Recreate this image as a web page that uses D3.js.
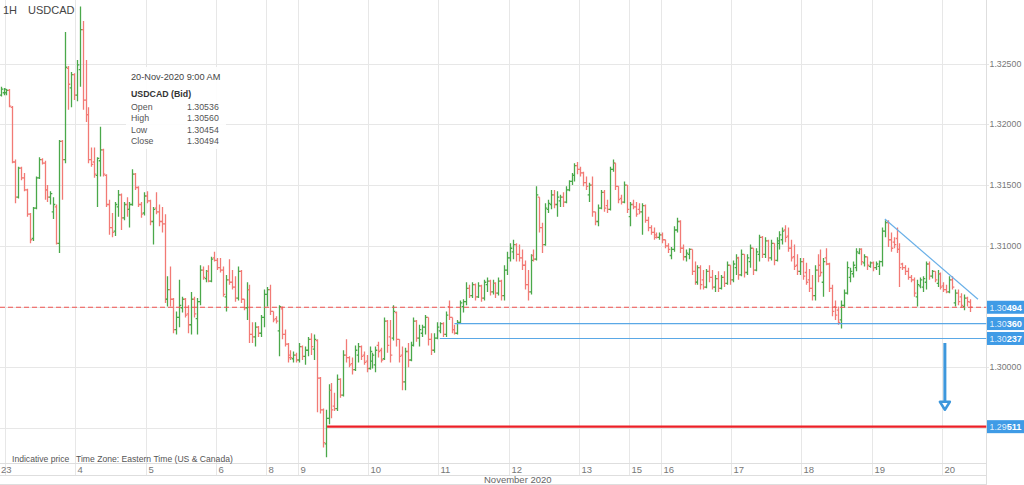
<!DOCTYPE html>
<html>
<head>
<meta charset="utf-8">
<script src="https://cdn.jsdelivr.net/npm/d3@7"></script>
<style>
body{margin:0;background:#fff;font-family:Arial,"Liberation Sans",sans-serif;}
</style>
</head>
<body>
<svg id="chart" width="1024" height="485"></svg>
<script>
// hourly bars, [open, high, low, close], last bar = 20-Nov-2020 9:00 AM
const bars = [
[1.3224,1.3231,1.3223,1.3229],[1.3226,1.3230,1.3224,1.3229],[1.3226,1.3229,1.3224,1.3228],[1.3228,1.3229,1.3214,1.3215],[1.3214,1.3215,1.3168,1.3169],
[1.3169,1.3171,1.3135,1.3140],[1.3140,1.3165,1.3139,1.3164],[1.3164,1.3165,1.3154,1.3156],[1.3156,1.3160,1.3145,1.3146],[1.3146,1.3147,1.3124,1.3126],
[1.3126,1.3127,1.3102,1.3105],[1.3106,1.3132,1.3104,1.3131],[1.3131,1.3157,1.3130,1.3156],[1.3156,1.3173,1.3155,1.3171],[1.3171,1.3172,1.3167,1.3168],
[1.3168,1.3170,1.3138,1.3146],[1.3146,1.3150,1.3136,1.3140],[1.3140,1.3145,1.3134,1.3143],[1.3128,1.3140,1.3122,1.3134],[1.3132,1.3134,1.3101,1.3102],
[1.3102,1.3187,1.3094,1.3186],[1.3186,1.3187,1.3138,1.3171],[1.3171,1.3276,1.3168,1.3247],[1.3246,1.3248,1.3212,1.3233],[1.3230,1.3243,1.3214,1.3241],
[1.3241,1.3242,1.3220,1.3224],[1.3224,1.3253,1.3219,1.3249],[1.3245,1.3297,1.3231,1.3278],[1.3278,1.3285,1.3212,1.3220],[1.3220,1.3253,1.3202,1.3208],
[1.3208,1.3214,1.3168,1.3171],[1.3171,1.3181,1.3165,1.3167],[1.3169,1.3181,1.3156,1.3159],[1.3158,1.3173,1.3132,1.3172],[1.3170,1.3198,1.3157,1.3179],
[1.3179,1.3180,1.3157,1.3159],[1.3158,1.3159,1.3132,1.3134],[1.3134,1.3138,1.3109,1.3115],[1.3115,1.3127,1.3107,1.3111],[1.3112,1.3136,1.3108,1.3134],
[1.3132,1.3146,1.3124,1.3142],[1.3142,1.3143,1.3113,1.3123],[1.3123,1.3136,1.3121,1.3134],[1.3134,1.3140,1.3124,1.3130],[1.3130,1.3136,1.3115,1.3134],
[1.3134,1.3163,1.3133,1.3159],[1.3159,1.3160,1.3146,1.3148],[1.3148,1.3149,1.3132,1.3134],[1.3134,1.3136,1.3123,1.3126],[1.3127,1.3144,1.3125,1.3141],
[1.3141,1.3145,1.3135,1.3137],[1.3137,1.3138,1.3117,1.3120],[1.3120,1.3132,1.3101,1.3130],[1.3131,1.3144,1.3126,1.3128],[1.3128,1.3134,1.3116,1.3120],
[1.3120,1.3132,1.3111,1.3118],[1.3118,1.3126,1.3053,1.3056],[1.3056,1.3075,1.3050,1.3064],[1.3064,1.3083,1.3050,1.3056],[1.3056,1.3057,1.3028,1.3031],
[1.3031,1.3046,1.3027,1.3041],[1.3041,1.3072,1.3033,1.3051],[1.3049,1.3058,1.3045,1.3056],[1.3056,1.3057,1.3041,1.3043],[1.3044,1.3051,1.3028,1.3035],
[1.3035,1.3062,1.3027,1.3056],[1.3056,1.3058,1.3041,1.3044],[1.3040,1.3057,1.3027,1.3054],[1.3054,1.3084,1.3051,1.3080],[1.3080,1.3083,1.3072,1.3074],
[1.3073,1.3080,1.3070,1.3079],[1.3079,1.3084,1.3070,1.3071],[1.3071,1.3091,1.3070,1.3089],[1.3090,1.3095,1.3087,1.3088],[1.3088,1.3090,1.3080,1.3082],
[1.3082,1.3090,1.3078,1.3080],[1.3080,1.3083,1.3058,1.3060],[1.3058,1.3076,1.3046,1.3072],[1.3072,1.3089,1.3068,1.3070],[1.3070,1.3080,1.3064,1.3066],
[1.3066,1.3075,1.3054,1.3057],[1.3057,1.3083,1.3055,1.3079],[1.3079,1.3080,1.3053,1.3056],[1.3056,1.3056,1.3047,1.3049],[1.3049,1.3070,1.3039,1.3064],
[1.3064,1.3068,1.3020,1.3027],[1.3027,1.3037,1.3020,1.3025],[1.3025,1.3037,1.3017,1.3033],[1.3033,1.3034,1.3025,1.3028],[1.3028,1.3043,1.3025,1.3041],
[1.3041,1.3064,1.3033,1.3060],[1.3060,1.3066,1.3050,1.3064],[1.3064,1.3068,1.3043,1.3046],[1.3046,1.3046,1.3037,1.3039],[1.3040,1.3042,1.3036,1.3038],
[1.3030,1.3051,1.3009,1.3050],[1.3048,1.3050,1.3023,1.3027],[1.3027,1.3031,1.3017,1.3019],[1.3019,1.3020,1.3004,1.3008],[1.3010,1.3014,1.3006,1.3008],
[1.3007,1.3013,1.3004,1.3010],[1.3010,1.3012,1.3004,1.3006],[1.3006,1.3020,1.3004,1.3017],[1.3017,1.3018,1.3006,1.3009],[1.3009,1.3017,1.3002,1.3014],
[1.3014,1.3025,1.3009,1.3023],[1.3023,1.3028,1.3010,1.3017],[1.3015,1.3027,1.3006,1.3023],[1.3022,1.3023,1.2963,1.2991],[1.2991,1.2992,1.2962,1.2965],
[1.2965,1.2966,1.2934,1.2938],[1.2937,1.2965,1.2926,1.2958],[1.2958,1.2986,1.2953,1.2981],[1.2981,1.2987,1.2958,1.2965],[1.2968,1.2979,1.2964,1.2966],
[1.2966,1.2994,1.2964,1.2990],[1.2990,1.2991,1.2975,1.2977],[1.2977,1.3014,1.2976,1.3010],[1.3010,1.3023,1.3004,1.3008],[1.3008,1.3009,1.3000,1.3002],
[1.3003,1.3008,1.2994,1.2998],[1.2998,1.3018,1.2997,1.3014],[1.3010,1.3020,1.3004,1.3017],[1.3017,1.3018,1.3006,1.3009],[1.3010,1.3013,1.3002,1.3004],
[1.3005,1.3010,1.2996,1.2999],[1.2999,1.3017,1.2998,1.3013],[1.3005,1.3012,1.2999,1.3010],[1.3002,1.3017,1.2996,1.3014],[1.3018,1.3021,1.3008,1.3013],
[1.3014,1.3016,1.3004,1.3006],[1.3007,1.3041,1.3006,1.3038],[1.3038,1.3039,1.3012,1.3018],[1.3025,1.3039,1.3004,1.3010],[1.3024,1.3051,1.3022,1.3046],
[1.3045,1.3046,1.3017,1.3023],[1.3023,1.3023,1.3004,1.3009],[1.3010,1.3017,1.2981,1.2988],[1.2988,1.3016,1.2981,1.3013],[1.3013,1.3020,1.3000,1.3006],
[1.3006,1.3021,1.3005,1.3018],[1.3018,1.3041,1.3017,1.3038],[1.3038,1.3039,1.3021,1.3024],[1.3024,1.3035,1.3017,1.3031],[1.3028,1.3035,1.3025,1.3033],
[1.3033,1.3043,1.3027,1.3041],[1.3041,1.3041,1.3018,1.3023],[1.3023,1.3028,1.3010,1.3014],[1.3014,1.3028,1.3012,1.3024],[1.3024,1.3037,1.3023,1.3033],
[1.3030,1.3037,1.3028,1.3036],[1.3036,1.3037,1.3025,1.3027],[1.3027,1.3046,1.3025,1.3043],[1.3050,1.3055,1.3039,1.3041],[1.3041,1.3041,1.3028,1.3031],
[1.3031,1.3035,1.3027,1.3028],[1.3028,1.3039,1.3027,1.3037],[1.3037,1.3055,1.3036,1.3053],[1.3050,1.3056,1.3045,1.3054],[1.3054,1.3070,1.3051,1.3065],
[1.3065,1.3068,1.3057,1.3059],[1.3059,1.3070,1.3057,1.3068],[1.3068,1.3069,1.3055,1.3058],[1.3058,1.3070,1.3057,1.3067],[1.3067,1.3068,1.3054,1.3057],
[1.3057,1.3072,1.3055,1.3070],[1.3068,1.3074,1.3062,1.3071],[1.3071,1.3072,1.3059,1.3062],[1.3062,1.3072,1.3060,1.3069],[1.3069,1.3070,1.3057,1.3061],
[1.3061,1.3074,1.3059,1.3071],[1.3071,1.3072,1.3055,1.3059],[1.3059,1.3084,1.3055,1.3080],[1.3080,1.3095,1.3076,1.3090],[1.3090,1.3102,1.3087,1.3098],
[1.3095,1.3105,1.3089,1.3101],[1.3101,1.3102,1.3087,1.3093],[1.3093,1.3101,1.3087,1.3090],[1.3090,1.3097,1.3080,1.3084],[1.3084,1.3088,1.3064,1.3068],
[1.3068,1.3080,1.3055,1.3062],[1.3062,1.3093,1.3060,1.3088],[1.3092,1.3097,1.3087,1.3089],[1.3089,1.3149,1.3088,1.3142],[1.3140,1.3140,1.3111,1.3115],
[1.3115,1.3119,1.3094,1.3101],[1.3101,1.3135,1.3100,1.3131],[1.3130,1.3138,1.3127,1.3135],[1.3134,1.3146,1.3130,1.3142],[1.3142,1.3146,1.3131,1.3134],
[1.3134,1.3145,1.3124,1.3140],[1.3137,1.3142,1.3132,1.3140],[1.3140,1.3144,1.3132,1.3136],[1.3136,1.3149,1.3135,1.3146],[1.3146,1.3154,1.3145,1.3153],
[1.3153,1.3160,1.3150,1.3158],[1.3158,1.3168,1.3153,1.3166],[1.3166,1.3169,1.3159,1.3163],[1.3163,1.3165,1.3157,1.3160],[1.3160,1.3161,1.3149,1.3152],
[1.3152,1.3157,1.3146,1.3149],[1.3142,1.3152,1.3136,1.3150],[1.3150,1.3157,1.3124,1.3128],[1.3128,1.3128,1.3117,1.3120],[1.3120,1.3134,1.3116,1.3131],
[1.3131,1.3146,1.3130,1.3144],[1.3144,1.3146,1.3128,1.3131],[1.3133,1.3138,1.3127,1.3130],[1.3130,1.3165,1.3129,1.3163],[1.3163,1.3171,1.3161,1.3168],
[1.3168,1.3168,1.3146,1.3149],[1.3149,1.3149,1.3135,1.3138],[1.3139,1.3142,1.3134,1.3136],[1.3136,1.3153,1.3135,1.3150],[1.3150,1.3150,1.3127,1.3130],
[1.3124,1.3136,1.3116,1.3134],[1.3134,1.3138,1.3130,1.3132],[1.3132,1.3136,1.3124,1.3126],[1.3130,1.3135,1.3126,1.3128],[1.3128,1.3135,1.3109,1.3133],
[1.3133,1.3134,1.3119,1.3121],[1.3121,1.3124,1.3112,1.3115],[1.3115,1.3117,1.3109,1.3111],[1.3111,1.3115,1.3105,1.3107],[1.3109,1.3111,1.3106,1.3107],
[1.3107,1.3111,1.3105,1.3109],[1.3109,1.3111,1.3102,1.3105],[1.3105,1.3105,1.3098,1.3100],[1.3100,1.3102,1.3094,1.3097],[1.3092,1.3099,1.3089,1.3097],
[1.3097,1.3116,1.3095,1.3113],[1.3113,1.3123,1.3111,1.3120],[1.3120,1.3121,1.3094,1.3098],[1.3098,1.3101,1.3088,1.3091],[1.3091,1.3097,1.3087,1.3094],
[1.3093,1.3098,1.3089,1.3097],[1.3097,1.3097,1.3076,1.3079],[1.3079,1.3087,1.3068,1.3070],[1.3070,1.3084,1.3068,1.3082],[1.3082,1.3084,1.3064,1.3068],
[1.3072,1.3080,1.3064,1.3066],[1.3066,1.3081,1.3065,1.3079],[1.3079,1.3084,1.3070,1.3074],[1.3074,1.3080,1.3064,1.3066],[1.3066,1.3076,1.3062,1.3073],
[1.3073,1.3079,1.3062,1.3065],[1.3065,1.3076,1.3064,1.3074],[1.3074,1.3079,1.3066,1.3069],[1.3069,1.3087,1.3068,1.3084],[1.3084,1.3084,1.3068,1.3072],
[1.3072,1.3088,1.3070,1.3085],[1.3082,1.3093,1.3076,1.3090],[1.3090,1.3091,1.3072,1.3076],[1.3076,1.3097,1.3075,1.3093],[1.3093,1.3093,1.3074,1.3078],
[1.3078,1.3093,1.3076,1.3090],[1.3087,1.3101,1.3082,1.3098],[1.3098,1.3098,1.3076,1.3080],[1.3080,1.3098,1.3079,1.3095],[1.3093,1.3109,1.3087,1.3107],
[1.3107,1.3108,1.3090,1.3093],[1.3093,1.3107,1.3090,1.3104],[1.3104,1.3105,1.3087,1.3090],[1.3090,1.3105,1.3088,1.3102],[1.3102,1.3102,1.3084,1.3088],
[1.3088,1.3107,1.3087,1.3104],[1.3102,1.3112,1.3097,1.3109],[1.3105,1.3115,1.3101,1.3112],[1.3113,1.3117,1.3103,1.3107],[1.3108,1.3115,1.3095,1.3098],
[1.3098,1.3105,1.3087,1.3090],[1.3091,1.3101,1.3080,1.3083],[1.3084,1.3093,1.3076,1.3079],[1.3079,1.3090,1.3076,1.3087],[1.3087,1.3090,1.3072,1.3075],
[1.3078,1.3086,1.3068,1.3070],[1.3072,1.3081,1.3062,1.3065],[1.3065,1.3076,1.3055,1.3059],[1.3059,1.3084,1.3055,1.3080],[1.3080,1.3093,1.3070,1.3075],
[1.3084,1.3097,1.3075,1.3078],[1.3070,1.3090,1.3058,1.3087],[1.3090,1.3098,1.3084,1.3085],[1.3085,1.3086,1.3062,1.3065],[1.3065,1.3068,1.3042,1.3046],
[1.3050,1.3055,1.3039,1.3043],[1.3047,1.3050,1.3035,1.3037],[1.3039,1.3055,1.3032,1.3051],[1.3051,1.3064,1.3049,1.3061],[1.3061,1.3087,1.3060,1.3082],
[1.3074,1.3082,1.3070,1.3079],[1.3077,1.3087,1.3074,1.3084],[1.3082,1.3098,1.3079,1.3095],[1.3094,1.3098,1.3093,1.3097],[1.3097,1.3098,1.3084,1.3087],
[1.3086,1.3093,1.3083,1.3091],[1.3091,1.3091,1.3080,1.3084],[1.3083,1.3087,1.3082,1.3086],[1.3086,1.3087,1.3079,1.3082],[1.3082,1.3087,1.3080,1.3085],
[1.3083,1.3088,1.3076,1.3087],[1.3087,1.3115,1.3083,1.3112],[1.3112,1.3121,1.3107,1.3119],[1.3119,1.3121,1.3099,1.3105],[1.3105,1.3111,1.3095,1.3098],
[1.3103,1.3107,1.3098,1.3101],[1.3106,1.3115,1.3094,1.3097],[1.3097,1.3102,1.3066,1.3082],[1.3085,1.3086,1.3080,1.3082],[1.3082,1.3084,1.3076,1.3079],
[1.3079,1.3082,1.3072,1.3074],[1.3074,1.3076,1.3070,1.3072],[1.3072,1.3074,1.3058,1.3061],[1.3058,1.3072,1.3050,1.3068],[1.3067,1.3074,1.3065,1.3072],
[1.3066,1.3075,1.3062,1.3073],[1.3070,1.3087,1.3064,1.3085],[1.3085,1.3087,1.3072,1.3075],[1.3075,1.3080,1.3073,1.3079],[1.3079,1.3079,1.3070,1.3072],
[1.3069,1.3080,1.3066,1.3077],[1.3077,1.3078,1.3064,1.3066],[1.3067,1.3070,1.3062,1.3064],[1.3064,1.3068,1.3061,1.3062],[1.3062,1.3075,1.3061,1.3072],
[1.3072,1.3075,1.3064,1.3066],[1.3053,1.3064,1.3050,1.3061],[1.3061,1.3064,1.3051,1.3054],[1.3058,1.3061,1.3049,1.3051],[1.3050,1.3060,1.3047,1.3057],
[1.3057,1.3058,1.3050,1.3054],[1.30536,1.30560,1.30454,1.30494]
];

// first bar of each day (bar index) and its label
const dayLabels = ["23","4","5","6","8","9","10","11","12","13","15","16","17","18","19","20"];
const dayStartBars = [2,26,50,74,91,102,126,150,174,198,215,226,250,274,298,322];

const priceTicks = [1.295,1.300,1.305,1.310,1.315,1.320,1.325];

// drawn annotations
const currentPrice = 1.30494;
const supportPrices = [1.30360,1.30237];
const supportFromBar = [155,150];
const targetPrice = 1.29511;
const targetFromBar = 111.5;
const trendBars = [302,333.8];
const trendPrices = [1.3122,1.3056];
const arrowBar = 322.5;
const arrowPrices = [1.3020,1.2965];

const svg = d3.select("#chart");
const plotR = 986.5, plotB = 463.5;
const x = d3.scaleLinear().domain([0, bars.length - 1]).range([0.6, 0.6 + (bars.length - 1) * 2.928]);
const y = d3.scaleLinear().domain([1.295, 1.325]).range([428, 63.6]);
const fmt = d3.format(".5f");
const snap = v => Math.round(v) + 0.5;
const tags = [currentPrice].concat(supportPrices, [targetPrice]);

svg.append("defs").append("clipPath").attr("id","plot")
  .append("rect").attr("x",0).attr("y",0).attr("width",plotR).attr("height",plotB);

// grid
const grid = svg.append("g").attr("stroke","#e7e7e7").attr("stroke-width",1);
priceTicks.forEach(p => {
  grid.append("line").attr("x1",0).attr("x2",989).attr("y1",snap(y(p))).attr("y2",snap(y(p)));
});
dayStartBars.forEach(b => {
  const gx = snap(x(b - 0.5));
  grid.append("line").attr("x1",gx).attr("x2",gx).attr("y1",0).attr("y2",475.5);
});

// frame of the axis rows
const frame = svg.append("g").attr("stroke","#dedede").attr("stroke-width",1);
frame.append("line").attr("x1",0).attr("x2",plotR).attr("y1",plotB).attr("y2",plotB);
frame.append("line").attr("x1",0).attr("x2",plotR).attr("y1",475.5).attr("y2",475.5);
frame.append("line").attr("x1",0).attr("x2",plotR).attr("y1",484.5).attr("y2",484.5);
frame.append("line").attr("x1",plotR).attr("x2",plotR).attr("y1",0).attr("y2",485);

// y labels (those covered by a price tag are hidden)
const visibleTicks = priceTicks.filter(p => tags.every(t => Math.abs(y(t) - y(p)) > 10));
svg.append("g").selectAll("text").data(visibleTicks).join("text")
  .attr("x",989.5).attr("y",d => y(d)).attr("dy","0.35em")
  .attr("font-size",8.8).attr("fill","#777").text(d => fmt(d));

// x labels
svg.append("g").selectAll("text").data(dayStartBars).join("text")
  .attr("x",(d,i) => i === 0 ? 1 : snap(x(d - 0.5)) + 2)
  .attr("y",473).attr("font-size",9.5).attr("fill","#777")
  .text((d,i) => dayLabels[i]);
svg.append("text").attr("x",484).attr("y",483).attr("font-size",9.5).attr("fill","#666").text("November 2020");

const plot = svg.append("g").attr("clip-path","url(#plot)");

// OHLC bars
const up = "#4aa84a", down = "#f27a75";
plot.append("g").selectAll("path").data(bars).join("path")
  .attr("fill","none").attr("stroke-width",1.3)
  .attr("stroke",d => d[3] >= d[0] ? up : down)
  .attr("d",(d,i) => {
    const cx = Math.round(x(i)) + 0.5;
    return "M" + cx + "," + y(d[1]) + "V" + y(d[2]) +
      "M" + (cx - 1.8) + "," + y(d[0]) + "H" + cx +
      "M" + cx + "," + y(d[3]) + "H" + (cx + 1.8);
  });

// levels
plot.append("line").attr("x1",0).attr("x2",plotR)
  .attr("y1",y(currentPrice)).attr("y2",y(currentPrice))
  .attr("stroke","#ef5350").attr("stroke-width",1.2).attr("stroke-dasharray","5,3");
supportPrices.forEach((p,i) => {
  plot.append("line").attr("x1",x(supportFromBar[i])).attr("x2",plotR)
    .attr("y1",y(p)).attr("y2",y(p))
    .attr("stroke","#5aa8e6").attr("stroke-width",1.2);
});
plot.append("line").attr("x1",x(targetFromBar)).attr("x2",plotR)
  .attr("y1",y(targetPrice)).attr("y2",y(targetPrice))
  .attr("stroke","#ec2027").attr("stroke-width",2.4);
plot.append("line")
  .attr("x1",x(trendBars[0])).attr("y1",y(trendPrices[0]))
  .attr("x2",x(trendBars[1])).attr("y2",y(trendPrices[1]))
  .attr("stroke","#6ab0e8").attr("stroke-width",1.2);

// arrow
const ax = x(arrowBar), ay0 = y(arrowPrices[0]), ay1 = y(arrowPrices[1]);
plot.append("line").attr("x1",ax).attr("x2",ax).attr("y1",ay0).attr("y2",ay1 - 7)
  .attr("stroke","#3d97dc").attr("stroke-width",3);
plot.append("path")
  .attr("d","M" + (ax - 5) + "," + (ay1 - 8) + "L" + (ax + 5) + "," + (ay1 - 8) + "L" + ax + "," + ay1 + "Z")
  .attr("fill","#fff").attr("stroke","#3d97dc").attr("stroke-width",2.5).attr("stroke-linejoin","round");

// price tags on the right axis
const tagG = svg.append("g").selectAll("g").data(tags).join("g")
  .attr("transform",d => "translate(987," + (y(d) - 6.5) + ")");
tagG.append("rect").attr("width",37).attr("height",13).attr("fill","#3f9be6");
const tagT = tagG.append("text").attr("x",2.5).attr("y",9.8).attr("font-size",8.8).attr("fill","#fff");
tagT.append("tspan").attr("fill-opacity",0.85).text(d => fmt(d).slice(0,4));
tagT.append("tspan").attr("font-weight","bold").attr("font-size",9.2).text(d => fmt(d).slice(4));

// header
svg.append("text").attr("x",3).attr("y",14).attr("font-size",11).attr("fill","#444").text("1H");
svg.append("text").attr("x",28).attr("y",14).attr("font-size",11).attr("fill","#444").text("USDCAD");

// info box for the last bar
const last = bars[bars.length - 1];
const info = svg.append("g");
info.append("rect").attr("x",126).attr("y",67).attr("width",100).attr("height",82)
  .attr("fill","#fff").attr("fill-opacity",0.9);
info.append("text").attr("x",131).attr("y",79.5).attr("font-size",9.2).attr("fill","#444").text("20-Nov-2020 9:00 AM");
info.append("text").attr("x",131).attr("y",97).attr("font-size",8.8).attr("font-weight","bold").attr("fill","#333").text("USDCAD (Bid)");
["Open","High","Low","Close"].forEach((name,i) => {
  const val = last[i];
  info.append("text").attr("x",131).attr("y",109.5 + i * 11.6).attr("font-size",8.8).attr("fill","#555").text(name);
  info.append("text").attr("x",187).attr("y",109.5 + i * 11.6).attr("font-size",8.8).attr("fill","#555").text(fmt(val));
});

// footer notes
svg.append("text").attr("x",12).attr("y",462).attr("font-size",8.6).attr("fill","#555").text("Indicative price");
svg.append("text").attr("x",76).attr("y",462).attr("font-size",8.6).attr("fill","#555").text("Time Zone: Eastern Time (US & Canada)");
</script>
</body>
</html>
